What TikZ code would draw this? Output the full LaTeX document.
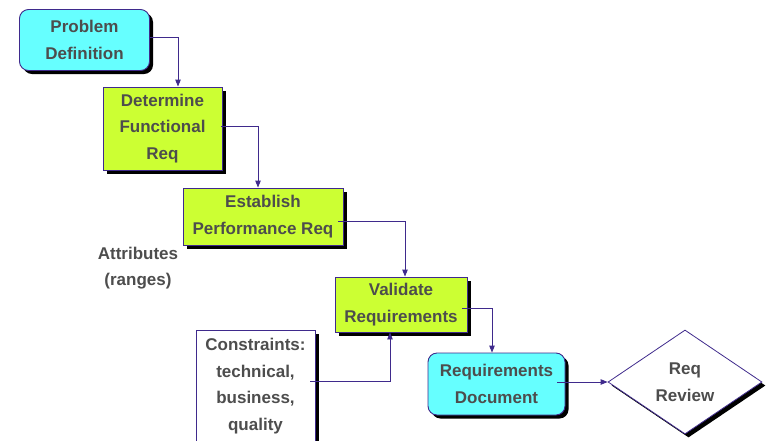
\documentclass[tikz,border=0pt]{standalone}
\usepackage{fontspec}
\setmainfont{Liberation Sans}
\usetikzlibrary{shapes.geometric,arrows.meta,shadows}

\definecolor{cyanfill}{HTML}{66FFFF}
\definecolor{limefill}{HTML}{CCFF33}
\definecolor{edgeline}{HTML}{3F2A8C}
\definecolor{labeltext}{HTML}{4D4D4D}

\tikzset{
  every node/.style={font=\fontsize{17}{26.5}\selectfont\bfseries, text=labeltext, align=center, inner sep=0pt},
  shade box/.style={drop shadow={shadow xshift=3.5pt, shadow yshift=-3.5pt, fill=black, opacity=1}},
  startbox/.style={draw=edgeline, line width=0.9pt, fill=cyanfill, rounded corners=9pt, shade box},
  stepbox/.style={draw=edgeline, line width=0.9pt, fill=limefill, shade box},
  notebox/.style={draw=edgeline, line width=0.9pt, fill=white, shade box},
  decision/.style={diamond, draw=edgeline, line width=0.8pt, fill=white, shade box, aspect=1.48},
  conn/.style={draw=edgeline, line width=0.9pt, -{Triangle[length=7pt,width=5.5pt]}},
}

\begin{document}
\begin{tikzpicture}[x=1pt,y=-1pt]
  \useasboundingbox (0,0) rectangle (771,440);

  % process chain
  \node[startbox, minimum width=130pt, minimum height=61pt] (pd) at (84.5,40) {Problem\\Definition};
  \node[stepbox, minimum width=119pt, minimum height=83pt] (dfr) at (162.5,128.5) {Determine\\Functional\\Req};
  \node[stepbox, minimum width=160pt, minimum height=57pt] (epr) at (263,216.5) {Establish\\Performance Req};
  \node[stepbox, minimum width=132pt, minimum height=55pt] (vr) at (401,304.5) {Validate\\Requirements};
  \node[startbox, minimum width=137pt, minimum height=62pt] (rd) at (496.5,384) {Requirements\\Document};
  \node[decision, minimum width=154pt, minimum height=104pt] (rv) at (685,382) {Req\\Review};

  % side inputs
  \node[notebox, minimum width=119pt, minimum height=112pt] (cons) at (255.5,386) {Constraints:\\technical,\\business,\\quality};
  \node (attr) at (138,268) {Attributes\\(ranges)};

  % connectors
  \coordinate (rdout) at ([xshift=-8pt,yshift=2pt]rd.east);
  \draw[conn] ([xshift=-1pt,yshift=3pt]pd.east) -| ([xshift=15.5pt]dfr.north);
  \draw[conn] ([xshift=-1pt,yshift=2.5pt]dfr.east) -| ([xshift=-5pt]epr.north);
  \draw[conn] ([xshift=-5pt,yshift=-4.5pt]epr.east) -| ([xshift=4pt]vr.north);
  \draw[conn] ([xshift=-5pt,yshift=-3.5pt]vr.east) -| ([xshift=-4.5pt]rd.north);
  \draw[conn] ([xshift=-5pt,yshift=5pt]cons.east) -| ([xshift=-11pt]vr.south);
  \draw[conn] (rdout) -- (rdout -| rv.west);
\end{tikzpicture}
\end{document}
